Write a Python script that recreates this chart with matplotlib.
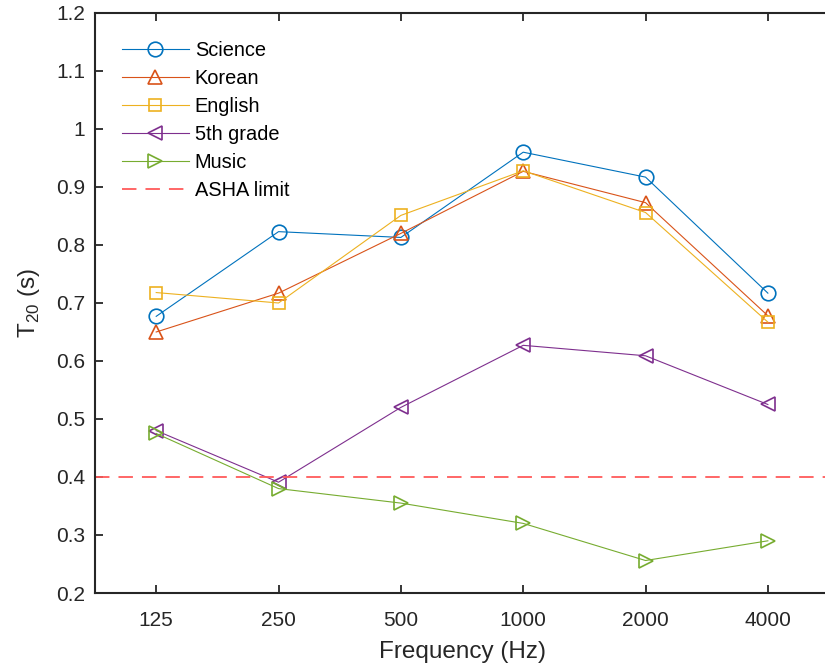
import matplotlib
matplotlib.use('Agg')
import matplotlib.pyplot as plt

plt.rcParams['font.family'] = ['Liberation Sans', 'DejaVu Sans']

freqs = ['125', '250', '500', '1000', '2000', '4000']
science = [0.677, 0.823, 0.813, 0.960, 0.917, 0.717]
korean = [0.650, 0.717, 0.820, 0.927, 0.873, 0.678]
english = [0.718, 0.700, 0.851, 0.928, 0.856, 0.667]
fifth_grade = [0.480, 0.391, 0.520, 0.627, 0.609, 0.525]
music = [0.475, 0.380, 0.355, 0.320, 0.256, 0.290]
asha_limit = 0.4

series = [
    ('Science', science, '#0072BD', 'o'),
    ('Korean', korean, '#D95319', '^'),
    ('English', english, '#EDB120', 's'),
    ('5th grade', fifth_grade, '#7E2F8E', '<'),
    ('Music', music, '#77AC30', '>'),
]

fig = plt.figure(figsize=(8.25, 6.69), dpi=100)
ax = fig.add_axes([0.1152, 0.1136, 0.8897, 0.867])

x = list(range(1, len(freqs) + 1))
for name, vals, col, mk in series:
    ms = 8 if mk == 's' else 10.5
    ax.plot(x, vals, color=col, marker=mk, markersize=ms, markerfacecolor='none',
            markeredgewidth=1.2, linewidth=0.8, label=name)
ax.axhline(asha_limit, color='#FF5A5A', linestyle=(0, (8, 5)), linewidth=1.3, label='ASHA limit')

ax.set_xlim(0.5, 6.5)
ax.set_ylim(0.2, 1.2)
ax.set_xticks(x)
ax.set_xticklabels(freqs)
ax.set_yticks([0.2 + 0.1 * i for i in range(11)])
ax.set_yticklabels(['0.2', '0.3', '0.4', '0.5', '0.6', '0.7', '0.8', '0.9', '1', '1.1', '1.2'])
ax.tick_params(direction='in', length=6, width=1.3, labelsize=15, top=True, pad=7, colors='#262626')
ax.tick_params(axis='x', pad=13)
for s in ax.spines.values():
    s.set_linewidth(1.5)
    s.set_color('#262626')

ax.set_xlabel('Frequency (Hz)', fontsize=17.5, color='#262626', labelpad=8)
ax.set_ylabel('T$_{\\mathregular{20}}$ (s)', fontsize=17.5, color='#262626', labelpad=10)

ax.legend(loc='upper left', bbox_to_anchor=(0.012, 0.983), frameon=False, fontsize=14.4,
          handlelength=3.35, handletextpad=0.3, labelspacing=0.45)

fig.savefig('out.png', dpi=100)
